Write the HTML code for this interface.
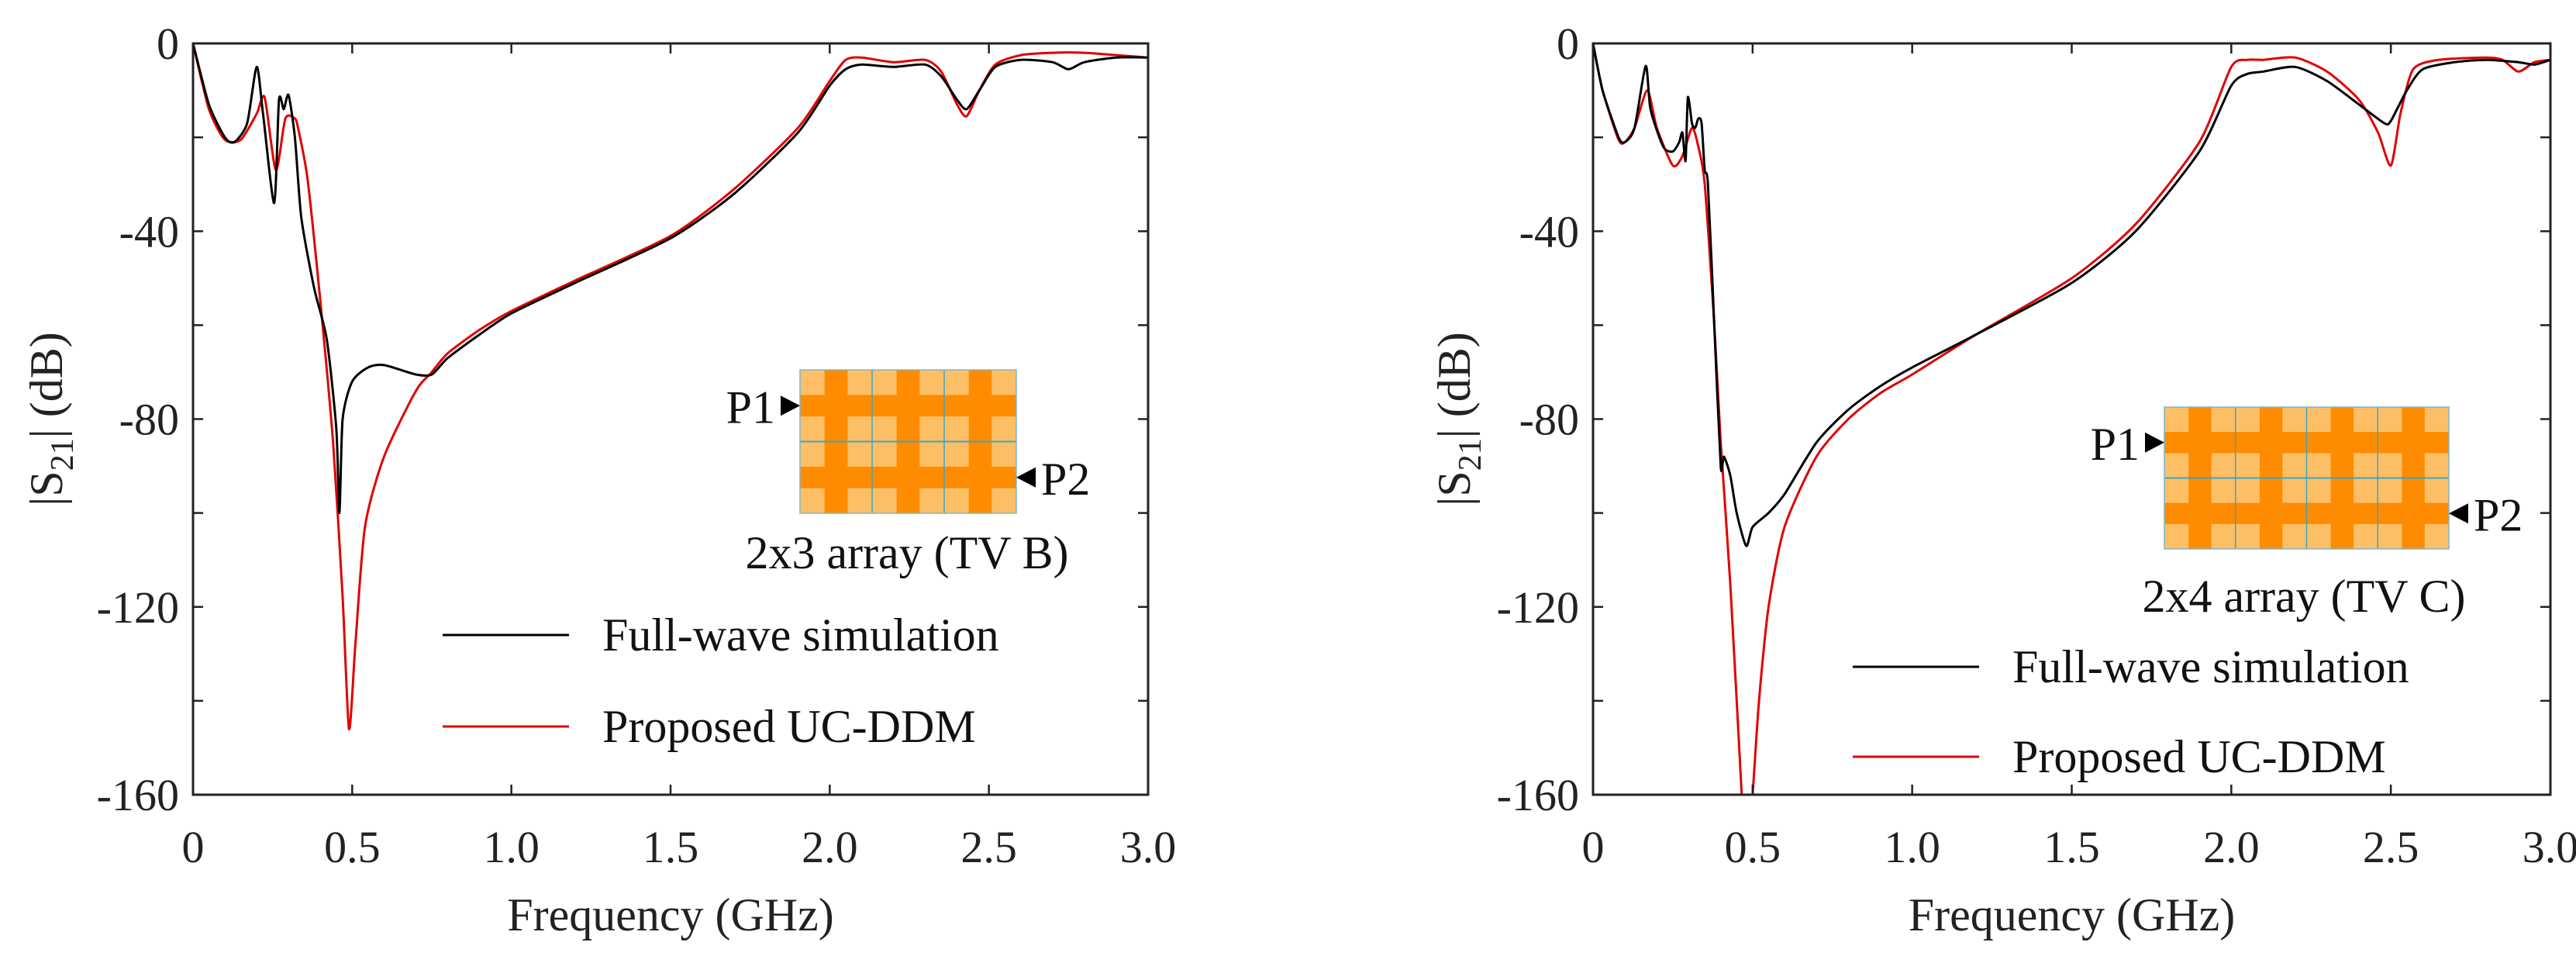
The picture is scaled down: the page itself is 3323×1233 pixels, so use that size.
<!DOCTYPE html>
<html><head><meta charset="utf-8">
<style>
html,body{margin:0;padding:0;background:#fff;}
svg{display:block;font-family:"Liberation Serif",serif;}
</style></head>
<body>
<svg id="fig" width="3323" height="1233" viewBox="0 0 3323 1233" xmlns="http://www.w3.org/2000/svg"></svg>
<script>
const xTicks = [0, 0.5, 1.0, 1.5, 2.0, 2.5, 3.0];
const xTickLabels = ["0", "0.5", "1.0", "1.5", "2.0", "2.5", "3.0"];
const yTicks = [0, -40, -80, -120, -160];
const yTickLabels = ["0", "-40", "-80", "-120", "-160"];
const yMinorTicks = [-20, -60, -100, -140];

const leftFullF  = [0,0.05,0.1,0.13,0.17,0.2,0.22,0.255,0.27,0.285,0.3,0.32,0.34,0.38,0.42,0.45,0.46,0.47,0.5,0.55,0.6,0.7,0.75,0.8,0.9,1.0,1.2,1.5,1.7,1.9,2.0,2.05,2.1,2.2,2.3,2.35,2.4,2.43,2.47,2.52,2.6,2.7,2.75,2.8,2.9,3.0];
const leftFullDB = [0,-13,-20,-21,-17,-5,-15,-34,-12,-14,-11,-20,-37,-52,-63,-82,-100,-80,-72,-69,-68.5,-70.5,-70.5,-67,-62,-57.5,-51,-41.5,-32,-19,-9,-5.5,-4.5,-5,-4.5,-7,-12,-14,-10,-5,-3.5,-4,-5.5,-4,-3,-3];
const leftDdmF  = [0,0.05,0.1,0.15,0.2,0.225,0.26,0.29,0.32,0.33,0.36,0.4,0.44,0.47,0.49,0.51,0.54,0.6,0.7,0.75,0.8,0.9,1.0,1.2,1.5,1.7,1.9,2.0,2.05,2.1,2.2,2.3,2.35,2.4,2.43,2.47,2.52,2.6,2.7,2.8,2.9,3.0];
const leftDdmDB = [0,-14,-20.5,-20.5,-15,-11.5,-27,-16,-16,-18,-29,-55,-85,-118,-146,-128,-103,-88,-74,-70,-66,-61,-57,-50.5,-41,-31,-18,-8,-3.5,-3,-4,-3.5,-6,-13,-15.5,-10,-4.5,-2.5,-2,-2,-2.5,-3];

const rightFullF  = [0,0.03,0.08,0.1,0.13,0.165,0.18,0.22,0.25,0.27,0.28,0.29,0.297,0.31,0.32,0.33,0.34,0.35,0.36,0.38,0.4,0.41,0.43,0.45,0.48,0.5,0.55,0.6,0.7,0.8,0.9,1.0,1.2,1.5,1.7,1.9,2.0,2.05,2.1,2.2,2.3,2.4,2.48,2.5,2.55,2.6,2.7,2.8,2.9,2.95,3.0];
const rightFullDB = [0,-10,-20,-21,-18,-4.8,-14,-22,-23,-21,-19,-25,-11.5,-17,-18,-16,-17,-27,-30,-60,-90,-88,-92,-100,-107,-103,-100,-96,-85,-78,-73,-69,-62,-51,-40,-23,-9,-6.5,-6,-5,-8,-13,-17,-16.5,-10,-5.5,-4,-3.5,-4,-4.5,-3.5];
const rightDdmF  = [0,0.03,0.08,0.1,0.13,0.17,0.2,0.25,0.28,0.31,0.33,0.35,0.38,0.4,0.43,0.466,0.48,0.5,0.52,0.55,0.6,0.7,0.8,0.9,1.0,1.2,1.5,1.7,1.9,2.0,2.05,2.1,2.2,2.3,2.4,2.46,2.5,2.53,2.57,2.65,2.8,2.85,2.9,2.95,3.0];
const rightDdmDB = [0,-10,-20.5,-21,-18,-10,-18,-26,-24,-18,-22,-30,-60,-85,-115,-160,-175,-160,-140,-120,-103,-88,-80,-74.5,-70.5,-62,-50,-38.5,-21,-5,-3.5,-3.5,-3,-6,-12,-19,-26,-15,-5.5,-3.5,-3,-3.5,-6,-4,-3.5];

const NS = "http://www.w3.org/2000/svg";
const svg = document.getElementById("fig");
function mk(tag, attrs, parent){ const e=document.createElementNS(NS,tag); for(const k in attrs) e.setAttribute(k,attrs[k]); (parent||svg).appendChild(e); return e; }

function catmull(pts){
  let d="M"+pts[0][0].toFixed(1)+","+pts[0][1].toFixed(1);
  for(let i=0;i<pts.length-1;i++){
    const p0=pts[Math.max(0,i-1)],p1=pts[i],p2=pts[i+1],p3=pts[Math.min(pts.length-1,i+2)];
    const t=0.12;
    const c1=[p1[0]+(p2[0]-p0[0])*t,p1[1]+(p2[1]-p0[1])*t];
    const c2=[p2[0]-(p3[0]-p1[0])*t,p2[1]-(p3[1]-p1[1])*t];
    d+="C"+c1[0].toFixed(1)+","+c1[1].toFixed(1)+" "+c2[0].toFixed(1)+","+c2[1].toFixed(1)+" "+p2[0].toFixed(1)+","+p2[1].toFixed(1);
  }
  return d;
}

function panel(cfg){
  const g=mk("g",{});
  
  
  const X0=cfg.x0,X1=cfg.x1,Y0=cfg.y0,Y1=cfg.y1;
  const xs=f=>X0+(f/3)*(X1-X0);
  const ys=v=>Y0+(v/-160)*(Y1-Y0);
  const cid="clip-"+cfg.name;
  const cp=mk("clipPath",{id:cid},g); mk("rect",{x:X0,y:Y0,width:X1-X0,height:Y1-Y0},cp);
  // series
  const series=[[cfg.fullF,cfg.fullDB,"#000","full-wave-line"],[cfg.ddmF,cfg.ddmDB,"#e00000","uc-ddm-line"]];
  series.reverse();
  for(const s of series){
    const pts=s[0].map((f,i)=>[xs(f),ys(s[1][i])]);
    const p=mk("path",{d:catmull(pts),fill:"none",stroke:s[2],"stroke-width":3,"clip-path":"url(#"+cid+")","stroke-linejoin":"round"},g);
    
    
  }
  // frame
  const fr=mk("rect",{x:X0,y:Y0,width:X1-X0,height:Y1-Y0,fill:"none",stroke:"#222","stroke-width":3},g);
  
  
  const TL=13;
  xTicks.forEach((f,i)=>{
    const x=xs(f);
    mk("line",{x1:x,y1:Y1,x2:x,y2:Y1-TL,stroke:"#222","stroke-width":2.5},g);
    mk("line",{x1:x,y1:Y0,x2:x,y2:Y0+TL,stroke:"#222","stroke-width":2.5},g);
    const t=mk("text",{x:x,y:Y1+87,"text-anchor":"middle","font-size":58,fill:"#222"},g);
    t.textContent=xTickLabels[i];
    
    
  });
  yTicks.concat(yMinorTicks).forEach(v=>{
    const y=ys(v);
    mk("line",{x1:X0,y1:y,x2:X0+TL,y2:y,stroke:"#222","stroke-width":2.5},g);
    mk("line",{x1:X1,y1:y,x2:X1-TL,y2:y,stroke:"#222","stroke-width":2.5},g);
  });
  yTicks.forEach((v,i)=>{
    const t=mk("text",{x:X0-18,y:ys(v)+20,"text-anchor":"end","font-size":58,fill:"#222"},g);
    t.textContent=yTickLabels[i];
    
    
  });
  // axis titles
  const xt=mk("text",{x:(X0+X1)/2,y:Y1+175,"text-anchor":"middle","font-size":60,fill:"#222"},g);
  xt.textContent="Frequency (GHz)";
  
  
  const yt=mk("text",{transform:"translate("+(cfg.ytx)+","+((Y0+Y1)/2)+") rotate(-90)","text-anchor":"middle","font-size":60,fill:"#222"},g);
  yt.innerHTML='|S<tspan font-size="42" dy="14">21</tspan><tspan dy="-14">| (dB)</tspan>';
  
  
  // legend
  const lg=mk("g",{},g);
  
  
  [["Full-wave simulation","#000",cfg.legY[0]],["Proposed UC-DDM","#e00000",cfg.legY[1]]].forEach(e=>{
    mk("line",{x1:cfg.legX,y1:e[2],x2:cfg.legX+163,y2:e[2],stroke:e[1],"stroke-width":3},lg);
    const t=mk("text",{x:cfg.legX+206,y:e[2]+20,"font-size":60,fill:"#111"},lg);
    t.textContent=e[0];
    
    
  });
  // inset array
  const ins=mk("g",{},g);
  
  
  const a=cfg.arr, w=a.x1-a.x0, h=a.y1-a.y0;
  mk("rect",{x:a.x0,y:a.y0,width:w,height:h,fill:"#fdbf66"},ins);
  const cw=w/a.cols, bw=cw*0.32, bh=h*0.15;
  for(let r=0;r<2;r++){ const cy=a.y0+h*(r===0?0.25:0.75); mk("rect",{x:a.x0,y:cy-bh/2,width:w,height:bh,fill:"#ff8c00"},ins); }
  for(let c=0;c<a.cols;c++){ const cx=a.x0+cw*(c+0.5); mk("rect",{x:cx-bw/2,y:a.y0,width:bw,height:h,fill:"#ff8c00"},ins); }
  for(let c=1;c<a.cols;c++){ const x=a.x0+cw*c; mk("line",{x1:x,y1:a.y0,x2:x,y2:a.y1,stroke:"#3aa6c4","stroke-width":1.5},ins); }
  mk("line",{x1:a.x0,y1:a.y0+h/2,x2:a.x1,y2:a.y0+h/2,stroke:"#3aa6c4","stroke-width":2},ins);
  mk("rect",{x:a.x0,y:a.y0,width:w,height:h,fill:"none",stroke:"#7ab8c8","stroke-width":1.5},ins);
  const py1=a.y0+h*0.25, py2=a.y0+h*0.75;
  mk("polygon",{points:(a.x0-25)+","+(py1-13)+" "+a.x0+","+py1+" "+(a.x0-25)+","+(py1+13),fill:"#000"},ins);
  mk("polygon",{points:(a.x1+25)+","+(py2-13)+" "+a.x1+","+py2+" "+(a.x1+25)+","+(py2+13),fill:"#000"},ins);
  const p1=mk("text",{x:a.x0-32,y:py1+22,"text-anchor":"end","font-size":60,fill:"#111"},ins); p1.textContent="P1";
   
  const p2=mk("text",{x:a.x1+32,y:py2+22,"font-size":60,fill:"#111"},ins); p2.textContent="P2";
   
  const cap=mk("text",{x:cfg.capX,y:cfg.capY,"text-anchor":"middle","font-size":60,fill:"#111"},ins); cap.textContent=cfg.cap;
   
}

panel({name:"left-chart",x0:249,x1:1481,y0:56,y1:1025,ytx:80,
  fullF:leftFullF,fullDB:leftFullDB,ddmF:leftDdmF,ddmDB:leftDdmDB,
  legX:571,legY:[819,937],arr:{x0:1032,x1:1311,y0:477,y1:662,cols:3},
  cap:"2x3 array (TV B)",capX:1170,capY:733});
panel({name:"right-chart",x0:2055,x1:3290,y0:56,y1:1025,ytx:1896,
  fullF:rightFullF,fullDB:rightFullDB,ddmF:rightDdmF,ddmDB:rightDdmDB,
  legX:2390,legY:[860,976],arr:{x0:2792,x1:3159,y0:525,y1:708,cols:4},
  cap:"2x4 array (TV C)",capX:2972,capY:789});
</script>
</body></html>
